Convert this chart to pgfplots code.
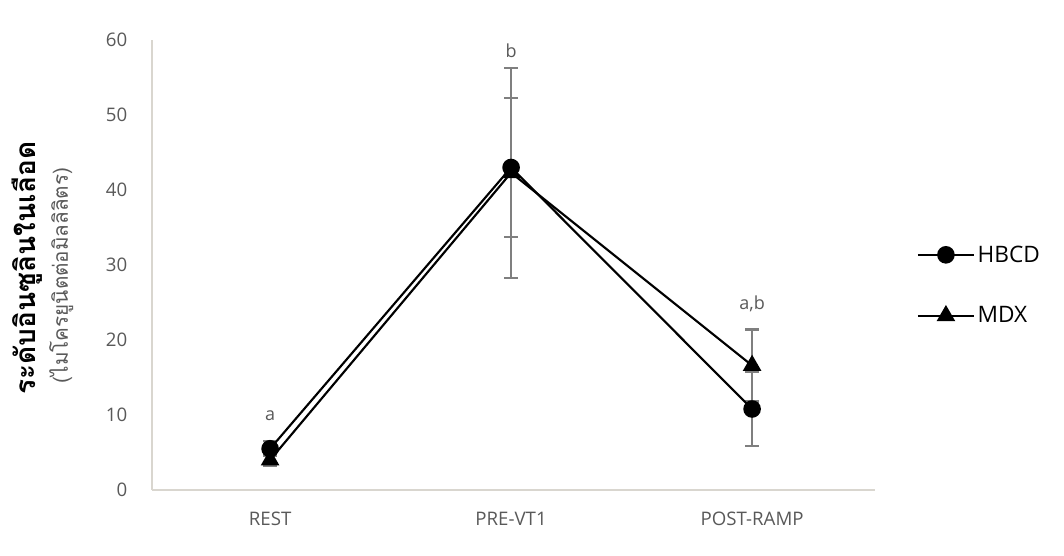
\documentclass[border=0pt]{standalone}
\usepackage{fontspec}
\setmainfont{Open Sans}
\newfontfamily\thaifont[Script=Thai]{Loma}
\usepackage{pgfplots}
\pgfplotsset{compat=1.18}
\definecolor{tickgray}{HTML}{595959}
\definecolor{axgray}{HTML}{D9D6CF}
\definecolor{ebgray}{HTML}{7F7F7F}
\begin{document}
\begin{tikzpicture}
\useasboundingbox (0,0) rectangle (798pt,417pt);
\begin{axis}[
  at={(114pt,49.5pt)}, anchor=south west,
  scale only axis, width=542.25pt, height=337.5pt,
  xmin=-0.49, xmax=2.51, ymin=0, ymax=60,
  xtick={0,1,2}, xticklabels={REST,PRE-VT1,POST-RAMP},
  ytick={0,10,...,60},
  axis x line*=bottom, axis y line*=left,
  axis line style={axgray, line width=1pt, -},
  major tick length=0pt,
  tick label style={font=\fontsize{14}{16}\selectfont, text=tickgray},
  /pgf/number format/assume math mode=true,
  yticklabel style={xshift=-15pt},
  xticklabel style={yshift=-13pt},
  clip=false,
  legend style={at={(1.052,0.455)}, anchor=west, draw=none, fill=none,
    font=\fontsize{17}{20}\selectfont, row sep=28pt},
  legend cell align=left,
  legend image code/.code={\draw[mark repeat=2, mark phase=2] plot coordinates {(0pt,0pt)(21pt,0pt)(42pt,0pt)};},
]
% error bars
\addplot[draw=none, forget plot, mark=none,
  error bars/.cd, y dir=both, y explicit,
  error bar style={ebgray, line width=1.6pt},
  error mark options={rotate=90, mark size=5pt, ebgray, line width=1.6pt}]
  coordinates {(0,5.5) +- (0,1.0) (1,43.0) +- (0,9.3) (2,10.8) +- (0,4.9)};
\addplot[draw=none, forget plot, mark=none,
  error bars/.cd, y dir=both, y explicit,
  error bar style={ebgray, line width=1.6pt},
  error mark options={rotate=90, mark size=5pt, ebgray, line width=1.6pt}]
  coordinates {(0,4.0) +- (0,0.8) (1,42.3) +- (0,14.0) (2,16.6) +- (0,4.8)};
% series
\addplot[black, line width=1.6pt, mark=*, mark size=5.8pt, mark options={solid, fill=black}]
  coordinates {(0,5.5) (1,43.0) (2,10.8)};
\addlegendentry{HBCD}
\addplot[black, line width=1.6pt, mark=triangle*, mark size=6.5pt, mark options={solid, fill=black}]
  coordinates {(0,4.0) (1,42.3) (2,16.6)};
\addlegendentry{MDX}
% significance letters
\node[text=tickgray, font=\fontsize{13.5}{15}\selectfont] at (axis cs:0,9.9) {a};
\node[text=tickgray, font=\fontsize{13.5}{15}\selectfont] at (axis cs:1,58.6) {b};
\node[text=tickgray, font=\fontsize{13.5}{15}\selectfont] at (axis cs:2,24.8) {a,b};
\end{axis}
\node[rotate=90, font=\thaifont\bfseries\fontsize{21}{24}\selectfont] at (20pt,216pt) {ระดับอินซูลินในเลือด};
\node[rotate=90, text=tickgray, font=\thaifont\fontsize{15.5}{18}\selectfont] at (46pt,210.5pt) {(ไมโครยูนิตต่อมิลลิลิตร)};
\end{tikzpicture}
\end{document}
